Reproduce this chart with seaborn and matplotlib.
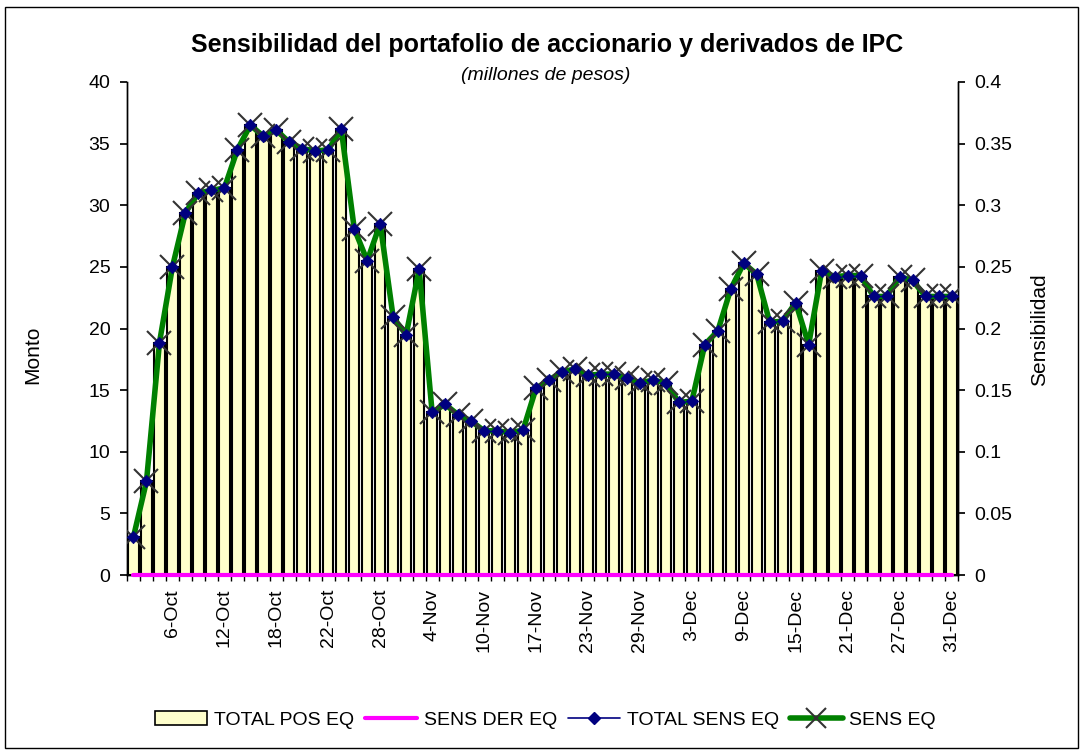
import numpy as np
import pandas as pd
import matplotlib
matplotlib.use("Agg")
import matplotlib.pyplot as plt
import seaborn as sns
from matplotlib.patches import Patch, Rectangle
from matplotlib.lines import Line2D
from matplotlib.ticker import FuncFormatter, FixedLocator

# fechas (dias habiles oct-dic)
dates = ['1-Oct', '4-Oct', '5-Oct', '6-Oct', '7-Oct', '8-Oct', '11-Oct', '12-Oct',
         '13-Oct', '14-Oct', '15-Oct', '18-Oct', '19-Oct', '20-Oct', '21-Oct', '22-Oct',
         '25-Oct', '26-Oct', '27-Oct', '28-Oct', '29-Oct', '1-Nov', '3-Nov', '4-Nov',
         '5-Nov', '8-Nov', '9-Nov', '10-Nov', '11-Nov', '12-Nov', '16-Nov', '17-Nov',
         '18-Nov', '19-Nov', '22-Nov', '23-Nov', '24-Nov', '25-Nov', '26-Nov', '29-Nov',
         '30-Nov', '1-Dec', '2-Dec', '3-Dec', '6-Dec', '7-Dec', '8-Dec', '9-Dec',
         '10-Dec', '13-Dec', '14-Dec', '15-Dec', '16-Dec', '17-Dec', '20-Dec', '21-Dec',
         '22-Dec', '23-Dec', '24-Dec', '27-Dec', '28-Dec', '29-Dec', '30-Dec', '31-Dec']

# millones de pesos
total_pos_eq = [3.1, 7.6, 18.85, 25.0, 29.4, 31.0, 31.2, 31.4,
                34.5, 36.5, 35.6, 36.1, 35.1, 34.6, 34.4, 34.5,
                36.2, 28.1, 25.5, 28.5, 20.9, 19.5, 24.8, 13.2,
                13.85, 13.0, 12.5, 11.7, 11.7, 11.55, 11.75, 15.15,
                15.8, 16.5, 16.7, 16.2, 16.3, 16.3, 15.95, 15.6,
                15.8, 15.6, 14.0, 14.1, 18.7, 19.8, 23.2, 25.3,
                24.4, 20.5, 20.6, 22.1, 18.7, 24.7, 24.2, 24.3,
                24.3, 22.6, 22.6, 24.2, 23.9, 22.6, 22.6, 22.6]

# sensibilidad (eje secundario)
total_sens_eq = [0.031, 0.076, 0.1885, 0.250, 0.294, 0.310, 0.312, 0.314,
                 0.345, 0.365, 0.356, 0.361, 0.351, 0.346, 0.344, 0.345,
                 0.362, 0.281, 0.255, 0.285, 0.209, 0.195, 0.248, 0.132,
                 0.1385, 0.130, 0.125, 0.117, 0.117, 0.1155, 0.1175, 0.1515,
                 0.158, 0.165, 0.167, 0.162, 0.163, 0.163, 0.1595, 0.156,
                 0.158, 0.156, 0.140, 0.141, 0.187, 0.198, 0.232, 0.253,
                 0.244, 0.205, 0.206, 0.221, 0.187, 0.247, 0.242, 0.243,
                 0.243, 0.226, 0.226, 0.242, 0.239, 0.226, 0.226, 0.226]
sens_eq = [0.031, 0.076, 0.1885, 0.250, 0.294, 0.310, 0.312, 0.314,
           0.345, 0.365, 0.356, 0.361, 0.351, 0.346, 0.344, 0.345,
           0.362, 0.281, 0.255, 0.285, 0.209, 0.195, 0.248, 0.132,
           0.1385, 0.130, 0.125, 0.117, 0.117, 0.1155, 0.1175, 0.1515,
           0.158, 0.165, 0.167, 0.162, 0.163, 0.163, 0.1595, 0.156,
           0.158, 0.156, 0.140, 0.141, 0.187, 0.198, 0.232, 0.253,
           0.244, 0.205, 0.206, 0.221, 0.187, 0.247, 0.242, 0.243,
           0.243, 0.226, 0.226, 0.242, 0.239, 0.226, 0.226, 0.226]
sens_der_eq = [0.0] * len(dates)

sns.set_theme(style="ticks")
plt.rcParams['font.family'] = ['Liberation Sans', 'DejaVu Sans']
for k in ('text.color', 'axes.labelcolor', 'xtick.color', 'ytick.color'):
    plt.rcParams[k] = 'black'

df = pd.DataFrame({'fecha': dates, 'pos': total_pos_eq, 'tsens': total_sens_eq,
                   'sens': sens_eq, 'der': sens_der_eq})
df['i'] = np.arange(len(df))

fig = plt.figure(figsize=(10.84, 7.55), dpi=100)
ax = fig.add_axes([127/1084, 1-575/755, (958-127)/1084, (575-82)/755])

sns.barplot(data=df, x='i', y='pos', ax=ax, color='#FFFFCC', saturation=1,
            width=0.8, edgecolor='black', linewidth=1.5, native_scale=True)
ax.set_xlim(-0.5, len(df) - 0.5)
ax.set_ylim(0, 40)
ax.set_yticks(np.arange(0, 41, 5))
ax.set_xlabel('')
ax.set_ylabel('')
ax.set_xticks(np.arange(3, len(df), 4))
ax.set_xticklabels(df['fecha'][3::4], rotation=90, fontsize=14)
ax.xaxis.set_minor_locator(FixedLocator(np.arange(-0.5, len(df), 1)))
ax.tick_params(axis='x', which='major', length=0, pad=10)
ax.tick_params(axis='x', which='minor', length=4, direction='out', color='black')
ax.tick_params(axis='y', labelsize=14, length=5, direction='out', color='black', pad=7)

ax2 = ax.twinx()
sns.lineplot(data=df, x='i', y='der', ax=ax2, color='#FF00FF', lw=3, zorder=3, clip_on=False)
sns.lineplot(data=df, x='i', y='tsens', ax=ax2, color='#000080', lw=1, zorder=3)
sns.lineplot(data=df, x='i', y='sens', ax=ax2, color='#008000', lw=4, marker='x',
             markersize=17, markeredgecolor='#333333', markeredgewidth=1.5, zorder=4)
sns.scatterplot(data=df, x='i', y='tsens', ax=ax2, color='#000080', marker='D',
                s=40, edgecolor='#000080', zorder=5)
ax2.set_xlim(-0.5, len(df) - 0.5)
ax2.set_ylim(0, 0.4)
ax2.set_yticks(np.arange(0, 0.41, 0.05))
ax2.yaxis.set_major_formatter(FuncFormatter(lambda v, p: '{:g}'.format(round(v, 2))))
ax2.tick_params(axis='y', labelsize=14, length=5, direction='out', color='black', pad=7)
ax2.set_ylabel('')
ax2.set_xlabel('')

for a in (ax, ax2):
    a.spines['top'].set_visible(False)
    for s in ('left', 'right', 'bottom'):
        a.spines[s].set_color('black')
        a.spines[s].set_linewidth(1)

fig.text(0.505, 0.940, 'Sensibilidad del portafolio de accionario y derivados de IPC',
         ha='center', va='center', fontsize=18, fontweight='bold')
fig.text(0.503, 0.900, '(millones de pesos)', ha='center', va='center',
         fontsize=14, style='italic')
fig.text(0.030, 0.530, 'Monto', rotation=90, ha='center', va='center', fontsize=15)
fig.text(0.959, 0.563, 'Sensibilidad', rotation=90, ha='center', va='center', fontsize=15)

handles = [Patch(facecolor='#FFFFCC', edgecolor='black', lw=1.2),
           Line2D([], [], color='#FF00FF', lw=3),
           Line2D([], [], color='#000080', lw=1.2, marker='D', markersize=6),
           Line2D([], [], color='#008000', lw=4, marker='x', markersize=15,
                  markeredgecolor='#333333', markeredgewidth=1.5)]
labels = ['TOTAL POS EQ', 'SENS DER EQ', 'TOTAL SENS EQ', 'SENS EQ']
fig.legend(handles, labels, loc='center', bbox_to_anchor=(0.503, 0.046), ncol=4,
           frameon=False, fontsize=14, handlelength=2.7, columnspacing=0.55,
           handletextpad=0.35)

fig.add_artist(Rectangle((5/1084, 7/755), 1073/1084, 741/755, transform=fig.transFigure,
                         fill=False, edgecolor='black', lw=1))

fig.savefig('out.png', dpi=100)
